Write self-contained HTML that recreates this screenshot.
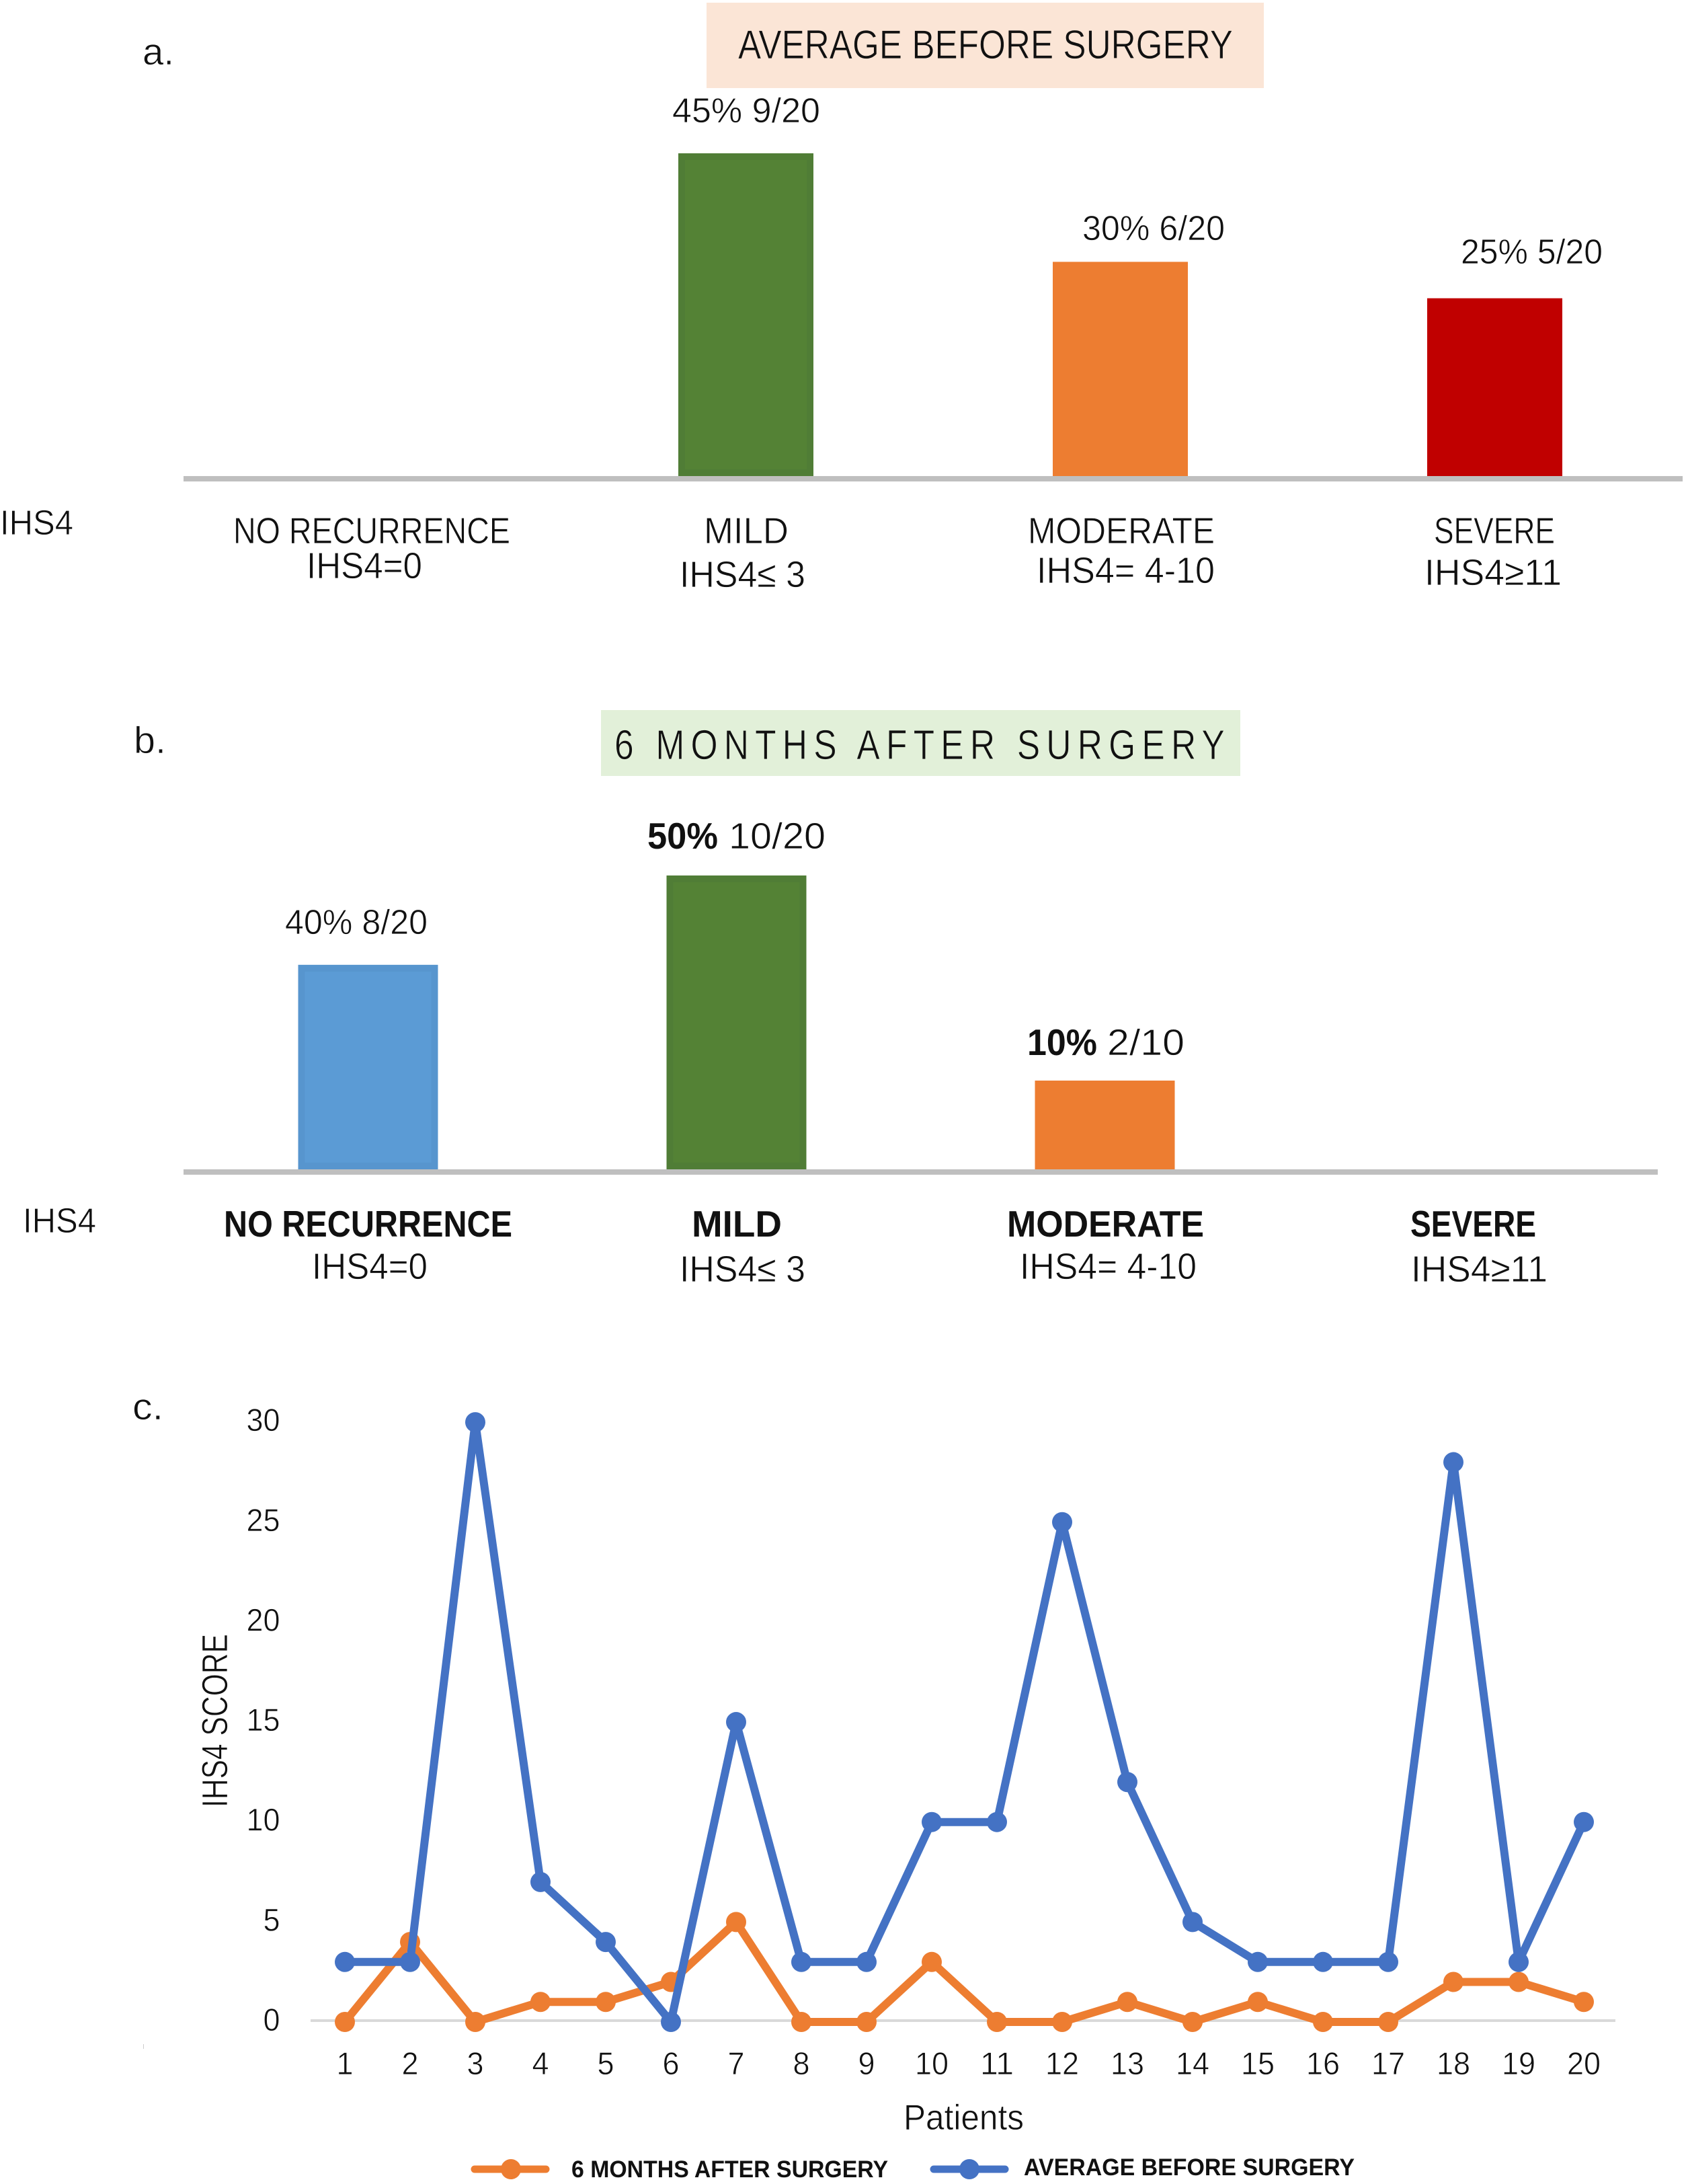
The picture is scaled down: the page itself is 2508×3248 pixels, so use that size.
<!DOCTYPE html>
<html lang="en">
<head>
<meta charset="utf-8">
<title>IHS4 before and after surgery</title>
<style>
html,body{margin:0;padding:0;background:#fff;}
svg{display:block;}
text{font-family:"Liberation Sans",sans-serif;fill:#111;}
.thin{stroke:#fff;stroke-width:.7px;}
.b{font-weight:bold;}
.s50{font-size:52px;}
.s54{font-size:55px;}
</style>
</head>
<body>
<svg id="figure" xmlns="http://www.w3.org/2000/svg" width="2508" height="3248" viewBox="0 0 2508 3248">
<rect x="0" y="0" width="2508" height="3248" fill="#fff"/>

<!-- Panel a -->
<g id="panel-a">
  <text class="thin" x="212" y="96" font-size="56" textLength="47" lengthAdjust="spacingAndGlyphs">a.</text>
  <rect x="1051" y="4" width="829" height="127" fill="#FBE5D6"/>
  <text x="1098" y="87" font-size="60" textLength="736" lengthAdjust="spacingAndGlyphs" style="stroke:#FBE5D6;stroke-width:.7px">AVERAGE BEFORE SURGERY</text>
  <rect x="273" y="708" width="2230" height="8" fill="#BFBFBF"/>
  <g id="bars-a"></g>
  <text class="thin s50" x="1000" y="182" textLength="220" lengthAdjust="spacingAndGlyphs">45% 9/20</text>
  <text class="thin s50" x="1610" y="357" textLength="212" lengthAdjust="spacingAndGlyphs">30% 6/20</text>
  <text class="thin s50" x="2173" y="392" textLength="211" lengthAdjust="spacingAndGlyphs">25% 5/20</text>
  <text class="thin s50" x="0" y="795" textLength="109" lengthAdjust="spacingAndGlyphs">IHS4</text>
  <text class="thin s54" x="347" y="808" textLength="412" lengthAdjust="spacingAndGlyphs">NO RECURRENCE</text>
  <text class="thin s54" x="456" y="860" textLength="172" lengthAdjust="spacingAndGlyphs">IHS4=0</text>
  <text class="thin s54" x="1047" y="808" textLength="126" lengthAdjust="spacingAndGlyphs">MILD</text>
  <text class="thin s54" x="1011" y="873" textLength="187" lengthAdjust="spacingAndGlyphs">IHS4≤ 3</text>
  <text class="thin s54" x="1529" y="808" textLength="278" lengthAdjust="spacingAndGlyphs">MODERATE</text>
  <text class="thin s54" x="1542" y="867" textLength="265" lengthAdjust="spacingAndGlyphs">IHS4= 4-10</text>
  <text class="thin s54" x="2133" y="808" textLength="180" lengthAdjust="spacingAndGlyphs">SEVERE</text>
  <text class="thin s54" x="2119" y="870" textLength="204" lengthAdjust="spacingAndGlyphs">IHS4≥11</text>
</g>

<!-- Panel b -->
<g id="panel-b">
  <text class="thin" x="199" y="1120" font-size="56" textLength="48" lengthAdjust="spacingAndGlyphs">b.</text>
  <rect x="894" y="1056" width="951" height="98" fill="#E2F0D9"/>
  <text x="914" y="1129" font-size="62" letter-spacing="11" textLength="917" lengthAdjust="spacingAndGlyphs" style="stroke:#E2F0D9;stroke-width:.8px">6 MONTHS AFTER SURGERY</text>
  <rect x="273" y="1739" width="2193" height="8" fill="#BFBFBF"/>
  <g id="bars-b"></g>
  <text class="thin s50" x="424" y="1389" textLength="212" lengthAdjust="spacingAndGlyphs">40% 8/20</text>
  <text class="b s54" x="963" y="1262" textLength="105" lengthAdjust="spacingAndGlyphs">50%</text>
  <text class="thin s54" x="1084" y="1262" textLength="144" lengthAdjust="spacingAndGlyphs">10/20</text>
  <text class="b s54" x="1528" y="1569" textLength="104" lengthAdjust="spacingAndGlyphs">10%</text>
  <text class="thin s54" x="1647" y="1569" textLength="115" lengthAdjust="spacingAndGlyphs">2/10</text>
  <text class="thin s50" x="34" y="1833" textLength="109" lengthAdjust="spacingAndGlyphs">IHS4</text>
  <text class="b s54" x="333" y="1839" textLength="429" lengthAdjust="spacingAndGlyphs">NO RECURRENCE</text>
  <text class="thin s54" x="464" y="1902" textLength="172" lengthAdjust="spacingAndGlyphs">IHS4=0</text>
  <text class="b s54" x="1029" y="1839" textLength="134" lengthAdjust="spacingAndGlyphs">MILD</text>
  <text class="thin s54" x="1011" y="1906" textLength="187" lengthAdjust="spacingAndGlyphs">IHS4≤ 3</text>
  <text class="b s54" x="1498" y="1839" textLength="293" lengthAdjust="spacingAndGlyphs">MODERATE</text>
  <text class="thin s54" x="1517" y="1902" textLength="263" lengthAdjust="spacingAndGlyphs">IHS4= 4-10</text>
  <text class="b s54" x="2098" y="1839" textLength="187" lengthAdjust="spacingAndGlyphs">SEVERE</text>
  <text class="thin s54" x="2099" y="1906" textLength="203" lengthAdjust="spacingAndGlyphs">IHS4≥11</text>
</g>

<!-- Panel c -->
<g id="panel-c">
  <text class="thin" x="197" y="2111" font-size="56" textLength="46" lengthAdjust="spacingAndGlyphs">c.</text>
  <rect x="213" y="3040" width="1" height="7" fill="#cccccc"/>
  <rect x="462" y="3003" width="1941" height="4" fill="#D9D9D9"/>
  <g id="y-ticks"></g>
  <g id="x-ticks"></g>
  <text class="thin" transform="translate(338,2688) rotate(-90)" font-size="54" textLength="258" lengthAdjust="spacingAndGlyphs">IHS4 SCORE</text>
  <text class="thin" x="1344" y="3167" font-size="53" textLength="179" lengthAdjust="spacingAndGlyphs">Patients</text>
  <g id="series"></g>
  <g>
    <line x1="706" y1="3226" x2="812" y2="3226" stroke="#ED7D31" stroke-width="11" stroke-linecap="round"/>
    <circle cx="760" cy="3226" r="15" fill="#ED7D31"/>
    <text class="b" x="850" y="3238" font-size="35" textLength="471" lengthAdjust="spacingAndGlyphs">6 MONTHS AFTER SURGERY</text>
  </g>
  <g>
    <line x1="1389" y1="3226" x2="1495" y2="3226" stroke="#4472C4" stroke-width="11" stroke-linecap="round"/>
    <circle cx="1442" cy="3226" r="15" fill="#4472C4"/>
    <text class="b" x="1523" y="3235" font-size="35" textLength="492" lengthAdjust="spacingAndGlyphs">AVERAGE BEFORE SURGERY</text>
  </g>
</g>
</svg>

<script>
// Panel a data (plotted percentages)
var panelACategories = ['mild', 'moderate', 'severe'];
var panelAValues = [45.2, 30, 24.9];
var panelAColors = ['#548235', '#ED7D31', '#C00000'];
var panelAEdges = [0.05, 0, 0];
var panelASlots = [1, 2, 3];

// Panel b data (bar heights, in percent-scale units)
var panelBCategories = ['no-recurrence', 'mild', 'moderate'];
var panelBValues = [34.8, 50, 15.1];
var panelBColors = ['#5B9BD5', '#548235', '#ED7D31'];
var panelBEdges = [0.05, 0.05, 0];
var panelBSlots = [0, 1, 2];

// Panel c data
var patients = ['1','2','3','4','5','6','7','8','9','10','11','12','13','14','15','16','17','18','19','20'];
var yTickValues = [0, 5, 10, 15, 20, 25, 30];
var beforeSurgery = [3, 3, 30, 7, 4, 0, 15, 3, 3, 10, 10, 25, 12, 5, 3, 3, 3, 28, 3, 10];
var afterSurgery = [0, 4, 0, 1, 1, 2, 5, 0, 0, 3, 0, 0, 1, 0, 1, 0, 0, 2, 2, 1];

var SVGNS = 'http://www.w3.org/2000/svg';
function make(tag, parent) {
  var el = document.createElementNS(SVGNS, tag);
  parent.appendChild(el);
  return el;
}

// Axis functions
function aBarX(slot) { return 552.5 + slot * 557; }
function aBarH(v) { return v * 10.62; }
function bBarX(slot) { return 547.5 + slot * 548; }
function bBarH(v) { return v * 8.74; }
function cX(i) { return 513 + i * 97; }
function cY(v) { return 3007 - v * 29.73; }

function drawBar(group, cx, w, base, h, color) {
  var r = make('rect', group);
  r.setAttribute('x', cx - w / 2);
  r.setAttribute('y', base - h);
  r.setAttribute('width', w);
  r.setAttribute('height', h);
  r.setAttribute('fill', color);
  return r;
}

function drawEdge(group, cx, w, base, h, opacity) {
  var r = make('rect', group);
  r.setAttribute('x', cx - w / 2 + 5);
  r.setAttribute('y', base - h + 5);
  r.setAttribute('width', w - 10);
  r.setAttribute('height', h - 10);
  r.setAttribute('fill', 'none');
  r.setAttribute('stroke', '#1a2a50');
  r.setAttribute('stroke-opacity', opacity);
  r.setAttribute('stroke-width', '10');
  return r;
}

var barsA = document.getElementById('bars-a');
panelAValues.forEach(function (v, i) {
  var bar = drawBar(barsA, aBarX(panelASlots[i]), 201, 708, aBarH(v), panelAColors[i]);
  
  
  if (panelAEdges[i] > 0) {
    var edge = drawEdge(barsA, aBarX(panelASlots[i]), 201, 708, aBarH(v), panelAEdges[i]);
    
    
  }
});

var barsB = document.getElementById('bars-b');
panelBValues.forEach(function (v, i) {
  var bar = drawBar(barsB, bBarX(panelBSlots[i]), 208, 1739, bBarH(v), panelBColors[i]);
  
  
  if (panelBEdges[i] > 0) {
    var edge = drawEdge(barsB, bBarX(panelBSlots[i]), 208, 1739, bBarH(v), panelBEdges[i]);
    
    
  }
});

var yTicks = document.getElementById('y-ticks');
yTickValues.forEach(function (v) {
  var t = make('text', yTicks);
  
  
  var w = String(v).length === 2 ? 50 : 25;
  t.setAttribute('class', 'thin');
  t.setAttribute('x', 416.5 - w);
  t.setAttribute('y', cY(v) + 13);
  t.setAttribute('font-size', '47');
  t.setAttribute('textLength', w);
  t.setAttribute('lengthAdjust', 'spacingAndGlyphs');
  t.textContent = String(v);
});

var xTicks = document.getElementById('x-ticks');
patients.forEach(function (p, i) {
  var t = make('text', xTicks);
  
  
  var w = p.length === 2 ? 50 : 25;
  t.setAttribute('class', 'thin');
  t.setAttribute('x', cX(i) - w / 2);
  t.setAttribute('y', 3085);
  t.setAttribute('font-size', '47');
  t.setAttribute('textLength', w);
  t.setAttribute('lengthAdjust', 'spacingAndGlyphs');
  t.textContent = p;
});

function drawSeries(name, values, color) {
  var host = document.getElementById('series');
  var g = make('g', host);
  
  
  var line = make('polyline', g);
  
  
  line.setAttribute('points', values.map(function (v, i) { return cX(i) + ',' + cY(v); }).join(' '));
  line.setAttribute('fill', 'none');
  line.setAttribute('stroke', color);
  line.setAttribute('stroke-width', '12');
  line.setAttribute('stroke-linejoin', 'round');
  values.forEach(function (v, i) {
    var c = make('circle', g);
    
    
    c.setAttribute('cx', cX(i));
    c.setAttribute('cy', cY(v));
    c.setAttribute('r', '15');
    c.setAttribute('fill', color);
  });
}
drawSeries('after-surgery', afterSurgery, '#ED7D31');
drawSeries('before-surgery', beforeSurgery, '#4472C4');
</script>
</body>
</html>
